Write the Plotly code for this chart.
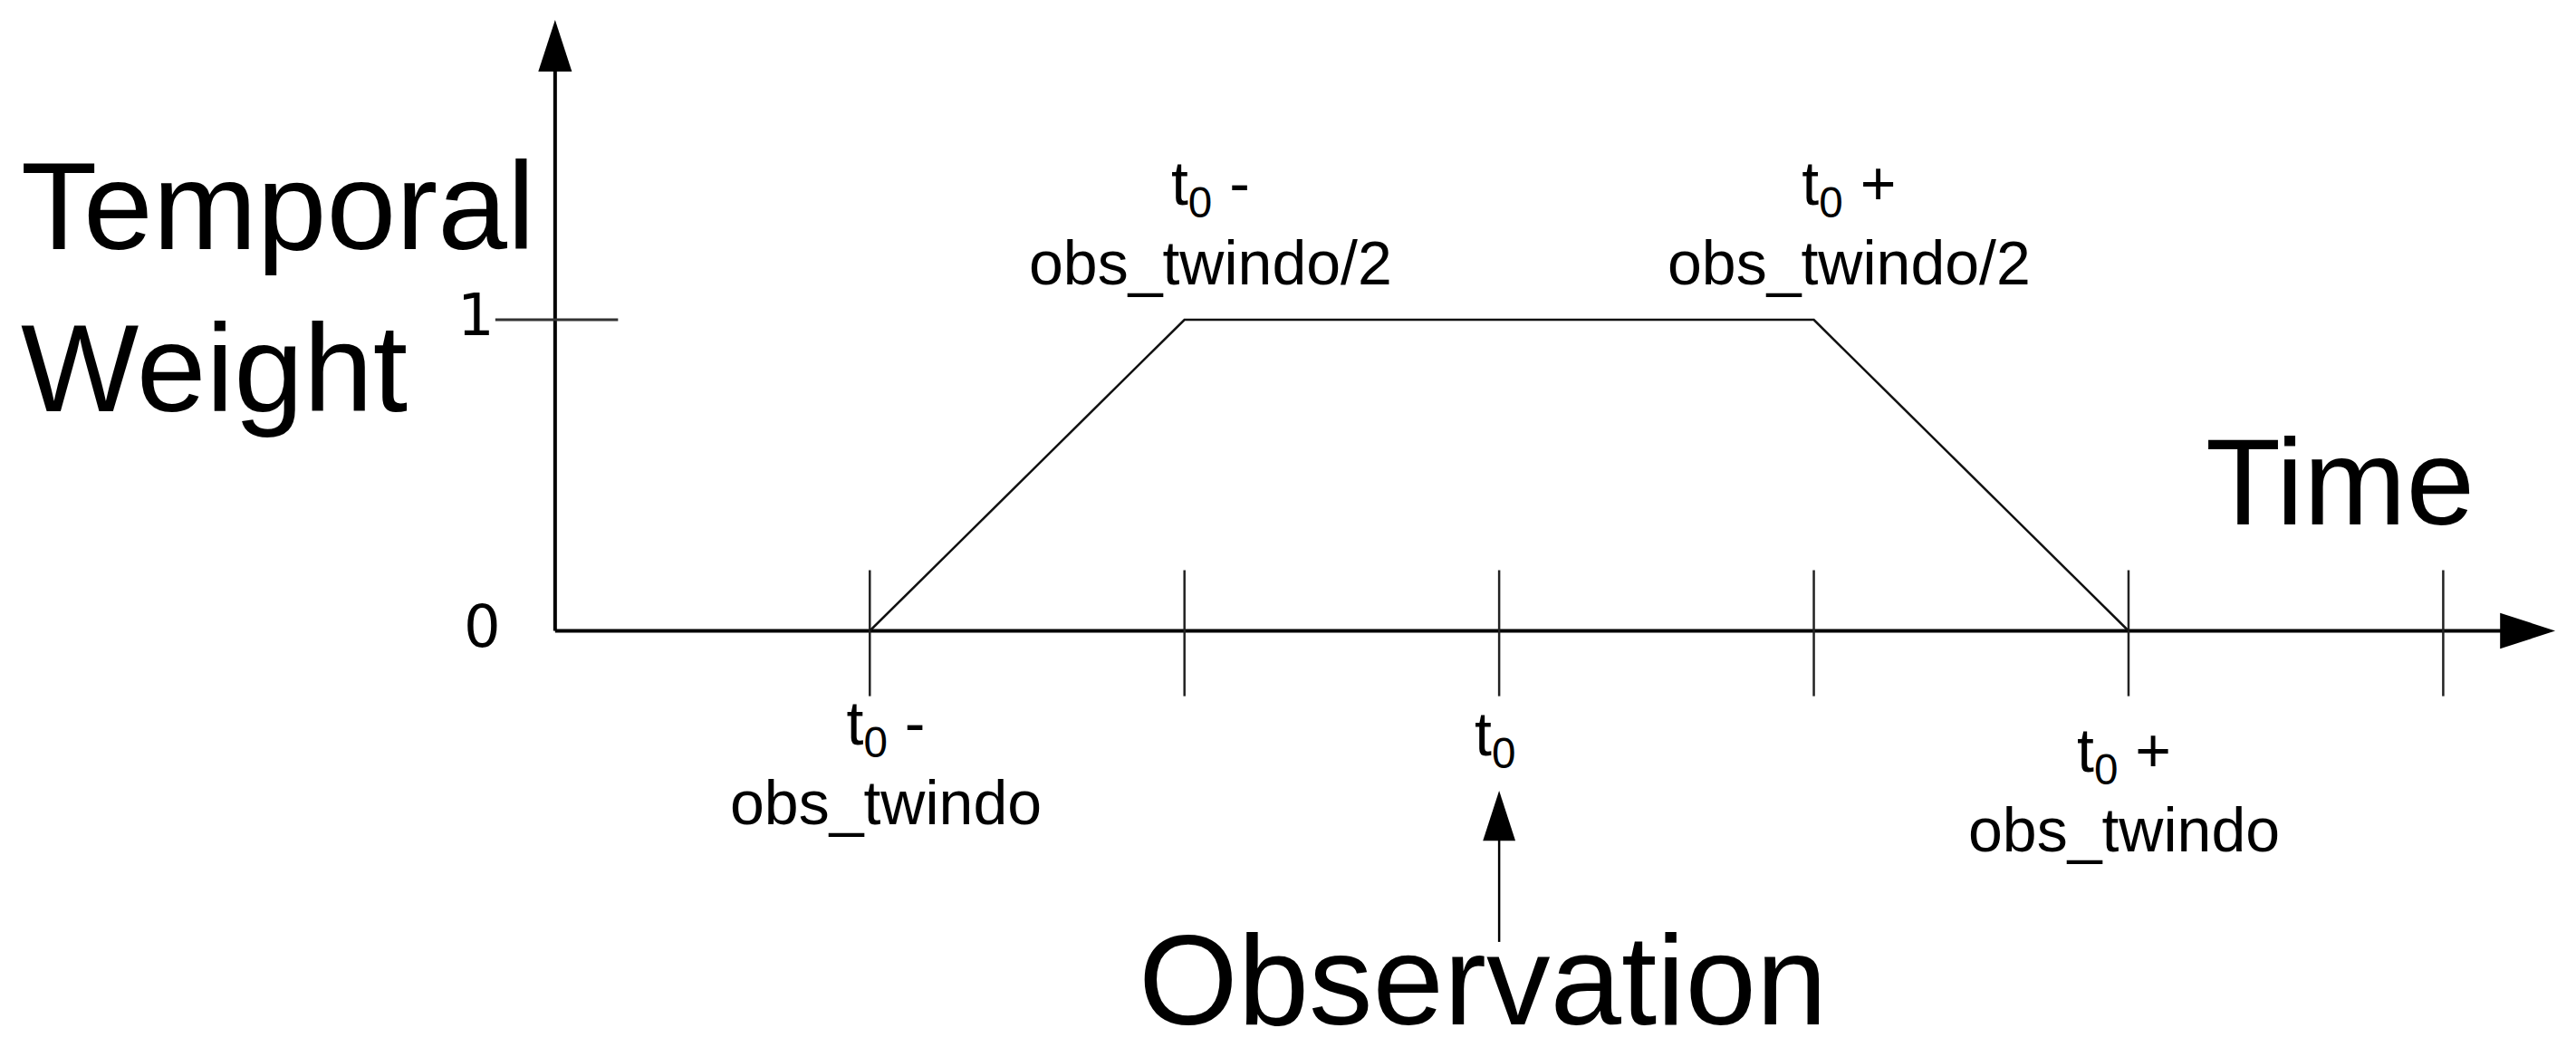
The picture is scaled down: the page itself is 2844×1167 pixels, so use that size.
import plotly.graph_objects as go

# ---- data (time in units of obs_twindo, relative to t0) ----
tick_positions = [-1.0, -0.5, 0.0, 0.5, 1.0, 1.5]
weight_x = [-1.0, -0.5, 0.5, 1.0]
weight_y = [0, 1, 1, 0]
y_tick_values = [0, 1]
y_tick_labels = ["0", "1"]

bottom_label_x = [-1.0, 0.0, 1.0]
bottom_label_text = ["t<sub>0</sub> -<br>obs_twindo", "t<sub>0</sub>", "t<sub>0</sub> +<br>obs_twindo"]
top_label_x = [-0.5, 0.5]
top_label_text = ["t<sub>0</sub> -<br>obs_twindo/2", "t<sub>0</sub> +<br>obs_twindo/2"]

y_axis_x = -1.5
x_axis_end = 1.678
y_axis_end = 1.964
obs_arrow_bottom = -1.0
obs_arrow_tip = -0.514

FONT = "Liberation Sans, Arial, sans-serif"
BLACK = "#000000"

fig = go.Figure()

# axes
fig.add_trace(go.Scatter(x=[y_axis_x, x_axis_end - 0.06], y=[0, 0], mode="lines",
                         line=dict(color=BLACK, width=4), hoverinfo="skip"))
fig.add_trace(go.Scatter(x=[y_axis_x, y_axis_x], y=[0, y_axis_end - 0.12], mode="lines",
                         line=dict(color=BLACK, width=4), hoverinfo="skip"))

# tick marks on time axis
tx, ty = [], []
for t in tick_positions:
    tx += [t, t, None]
    ty += [0.195, -0.21, None]
fig.add_trace(go.Scatter(x=tx, y=ty, mode="lines", line=dict(color="#222222", width=2.5),
                         hoverinfo="skip"))

# y = 1 tick
fig.add_trace(go.Scatter(x=[-1.595, -1.400], y=[y_tick_values[1], y_tick_values[1]], mode="lines",
                         line=dict(color="#333333", width=3), hoverinfo="skip"))

# temporal weight trapezoid
fig.add_trace(go.Scatter(x=weight_x, y=weight_y, mode="lines",
                         line=dict(color="#111111", width=2.5), hoverinfo="skip"))

# observation arrow shaft
fig.add_trace(go.Scatter(x=[0, 0], y=[obs_arrow_bottom, obs_arrow_tip - 0.1], mode="lines",
                         line=dict(color=BLACK, width=2.5), hoverinfo="skip"))

# arrow heads
fig.add_trace(go.Scatter(x=[x_axis_end, y_axis_x, 0], y=[0, y_axis_end, obs_arrow_tip],
                         mode="markers",
                         marker=dict(symbol="arrow", size=[64, 60, 58], angle=[90, 0, 0],
                                     color=BLACK, opacity=1, line=dict(width=0)),
                         hoverinfo="skip"))

ann = []
# y tick labels
ann.append(dict(x=-1.626, y=1.015, text=y_tick_labels[1], font=dict(family="DejaVu Sans", size=64, color=BLACK)))
ann.append(dict(x=-1.616, y=0.013, text=y_tick_labels[0], font=dict(family="DejaVu Sans", size=64, color=BLACK)))

bottom_offsets_x = [0.026, -0.006, -0.007]
bottom_y = [-0.423, -0.345, -0.511]
for bx, txt, dx, by in zip(bottom_label_x, bottom_label_text, bottom_offsets_x, bottom_y):
    ann.append(dict(x=bx + dx, y=by, text=txt, font=dict(family=FONT, size=68, color=BLACK)))

top_offsets_x = [0.042, 0.056]
for tx_, txt, dx in zip(top_label_x, top_label_text, top_offsets_x):
    ann.append(dict(x=tx_ + dx, y=1.312, text=txt, font=dict(family=FONT, size=68, color=BLACK)))

ann.append(dict(x=-2.352, y=1.105, text="Temporal<br>Weight", align="left", xanchor="left",
                font=dict(family=FONT, size=138, color=BLACK)))
ann.append(dict(x=1.336, y=0.479, text="Time", font=dict(family=FONT, size=136, color=BLACK)))
ann.append(dict(x=-0.026, y=-1.122, text="Observation", font=dict(family=FONT, size=141, color=BLACK)))

for a in ann:
    a.setdefault("xanchor", "center")
    a.update(xref="x", yref="y", showarrow=False, yanchor="middle")

fig.update_layout(
    width=2844, height=1167,
    margin=dict(l=0, r=0, t=0, b=0),
    paper_bgcolor="white", plot_bgcolor="white",
    showlegend=False,
    xaxis=dict(range=[-2.382, 1.711], visible=False, fixedrange=True),
    yaxis=dict(range=[-1.370, 2.028], visible=False, fixedrange=True),
    annotations=ann,
)

fig.write_html("out.html", config={"displayModeBar": False},
               post_script="document.body.style.margin='0';")
